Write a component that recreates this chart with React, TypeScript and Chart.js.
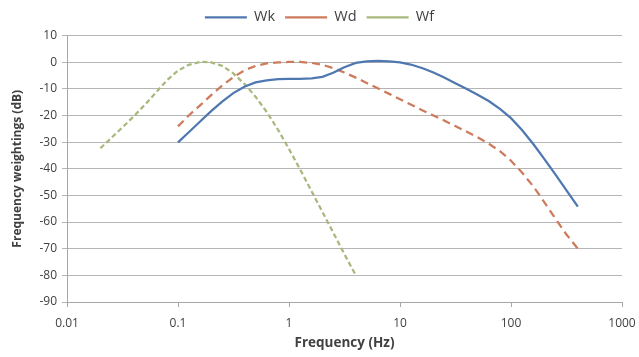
import { useEffect, useRef } from "react";
import { Chart, registerables } from "chart.js";

Chart.register(...registerables);

// ---- Data (1/3-octave frequencies) ----
const freqWk = [0.1, 0.125, 0.16, 0.2, 0.25, 0.315, 0.4, 0.5, 0.63, 0.8, 1, 1.25, 1.6, 2, 2.5, 3.15, 4, 5, 6.3, 8, 10, 12.5, 16, 20, 25, 31.5, 40, 50, 63, 80, 100, 125, 160, 200, 250, 315, 400];
const wk = [-30.1, -26.3, -22.1, -18.3, -14.8, -11.6, -9.1, -7.6, -6.8, -6.4, -6.3, -6.3, -6.1, -5.5, -4.0, -1.9, -0.3, 0.3, 0.5, 0.3, -0.1, -0.9, -2.3, -3.9, -5.8, -7.9, -10.1, -12.2, -14.6, -17.6, -21.0, -25.4, -30.9, -36.4, -42.0, -48.0, -54.2];

const freqWd = [0.1, 0.125, 0.16, 0.2, 0.25, 0.315, 0.4, 0.5, 0.63, 0.8, 1, 1.25, 1.6, 2, 2.5, 3.15, 4, 5, 6.3, 8, 10, 12.5, 16, 20, 25, 31.5, 40, 50, 63, 80, 100, 125, 160, 200, 250, 315, 400];
const wd = [-24.1, -20.0, -16.0, -12.3, -8.8, -5.6, -3.0, -1.4, -0.5, -0.1, 0.1, 0.1, -0.3, -1.0, -2.2, -3.9, -5.8, -7.8, -9.8, -11.9, -13.9, -15.9, -18.1, -20.0, -21.9, -24.0, -26.1, -28.2, -30.6, -33.5, -37.0, -41.3, -46.8, -52.6, -58.6, -64.6, -70.0];

const freqWf = [0.02, 0.025, 0.0315, 0.04, 0.05, 0.063, 0.08, 0.1, 0.125, 0.16, 0.2, 0.25, 0.315, 0.4, 0.5, 0.63, 0.8, 1, 1.25, 1.6, 2, 2.5, 3.15, 4];
const wf = [-32.3, -28.5, -24.5, -20.3, -16.1, -11.5, -6.7, -3.2, -1.0, 0.1, -0.1, -1.4, -4.2, -8.3, -13.0, -18.7, -25.5, -32.6, -40.0, -48.5, -56.2, -63.9, -72.0, -80.0];

const seriesNames = ["Wk", "Wd", "Wf"];
const xTickValues = [0.01, 0.1, 1, 10, 100, 1000];
const xTickLabels = ["0.01", "0.1", "1", "10", "100", "1000"];

const FONT = "'Open Sans', 'Liberation Sans', sans-serif";
const TEXT = "#404040";

function pts(xs: number[], ys: number[]) {
  return xs.map((x, i) => ({ x, y: ys[i] }));
}

export default function App() {
  const ref = useRef<HTMLCanvasElement>(null);

  useEffect(() => {
    document.body.style.margin = "0";
    const legendGap = {
      id: "legendGap",
      beforeInit(chart: any) {
        const orig = chart.legend.fit;
        chart.legend.fit = function () {
          orig.bind(chart.legend)();
          this.height += 1;
        };
      },
    };
    const chart = new Chart(ref.current!, {
      type: "line",
      data: {
        datasets: [
          {
            label: seriesNames[0],
            data: pts(freqWk, wk),
            borderColor: "#4F78B0",
            backgroundColor: "#4F78B0",
            borderWidth: 2.25,
          },
          {
            label: seriesNames[1],
            data: pts(freqWd, wd),
            borderColor: "#CD7B5C",
            backgroundColor: "#CD7B5C",
            borderWidth: 2.25,
            borderDash: [8, 5],
          },
          {
            label: seriesNames[2],
            data: pts(freqWf, wf),
            borderColor: "#A7B97C",
            backgroundColor: "#A7B97C",
            borderWidth: 2.25,
            borderDash: [5, 3],
          },
        ],
      },
      options: {
        responsive: false,
        animation: false,
        layout: { padding: { top: 0, right: 0, left: 0, bottom: 0 } },
        elements: {
          point: { radius: 0, hoverRadius: 0 },
          line: { tension: 0, borderCapStyle: "butt" },
        },
        plugins: {
          tooltip: { enabled: false },
          legend: {
            position: "top",
            labels: {
              usePointStyle: true,
              pointStyle: "line",
              pointStyleWidth: 42,
              padding: 10,
              color: TEXT,
              font: { family: FONT, size: 14.5 },
            },
          },
        },
        scales: {
          x: {
            type: "logarithmic",
            min: 0.01,
            max: 1000,
            afterBuildTicks: (s: any) => {
              s.ticks = xTickValues.map((v) => ({ value: v }));
            },
            afterFit: (s: any) => {
              s.height = 55;
              s.paddingRight = 17;
              s.paddingLeft = 0;
            },
            ticks: {
              autoSkip: false,
              maxRotation: 0,
              color: TEXT,
              padding: 9,
              font: { family: FONT, size: 12 },
              callback: (_v: any, i: number) => xTickLabels[i],
            },
            grid: { drawOnChartArea: false, tickLength: 5, color: "#A6A6A6" },
            border: { color: "#A6A6A6" },
            title: {
              display: true,
              text: "Frequency (Hz)",
              color: TEXT,
              font: { family: FONT, size: 13.5, weight: "bold" },
              padding: { top: 2, bottom: 6 },
            },
          },
          y: {
            min: -90,
            max: 10,
            afterFit: (s: any) => {
              s.width = 67;
            },
            ticks: {
              stepSize: 10,
              color: TEXT,
              padding: 5,
              font: { family: FONT, size: 12 },
            },
            grid: { tickLength: 5, color: "#B5B5B5" },
            border: { color: "#A6A6A6" },
            title: {
              display: true,
              text: "Frequency weightings (dB)",
              color: TEXT,
              font: { family: FONT, size: 12, weight: "bold" },
              padding: { top: 10, bottom: 4 },
            },
          },
        },
      },
      plugins: [legendGap],
    } as any);
    return () => chart.destroy();
  }, []);

  return <canvas ref={ref} width={639} height={357} />;
}
